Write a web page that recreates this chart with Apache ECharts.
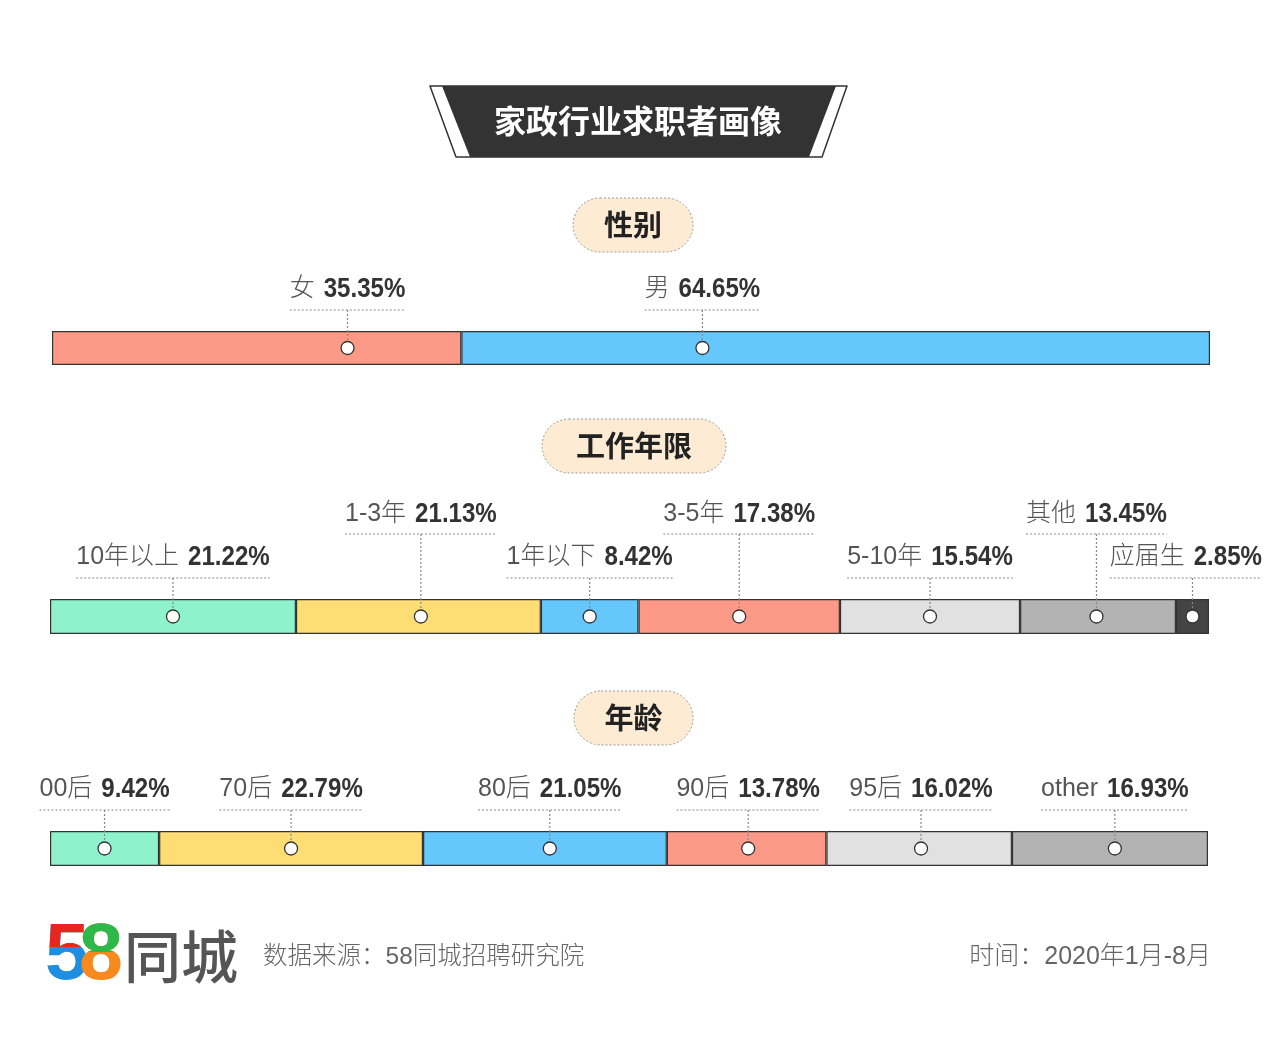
<!DOCTYPE html>
<html><head><meta charset="utf-8">
<script src="https://cdn.jsdelivr.net/npm/echarts@6/dist/echarts.min.js"></script>
<style>html,body{margin:0;padding:0;background:#fff}#c{width:1280px;height:1052px}</style>
</head><body><div id="c"></div>
<script>
// ---- data ----
const genderCategories = ['女', '男'];
const genderValues = [35.35, 64.65];
const workCategories = ['10年以上', '1-3年', '1年以下', '3-5年', '5-10年', '其他', '应届生'];
const workValues = [21.22, 21.13, 8.42, 17.38, 15.54, 13.45, 2.85];
const ageCategories = ['00后', '70后', '80后', '90后', '95后', 'other'];
const ageValues = [9.42, 22.79, 21.05, 13.78, 16.02, 16.93];
const sectionTitles = ['性别', '工作年限', '年龄'];
const mainTitle = '家政行业求职者画像';
const logoDigits = ['5', '8'];
const logoWord = '同城';
const sourceText = '数据来源：58同城招聘研究院';
const timeText = '时间：2020年1月-8月';

// ---- styles / layout ----
const genderColors = ['#fd9a87', '#66c7fd'];
const workColors = ['#8ef3cd', '#fede74', '#66c7fd', '#fd9a87', '#e1e1e1', '#b3b3b3', '#444444'];
const ageColors = ['#8ef3cd', '#fede74', '#66c7fd', '#fd9a87', '#e1e1e1', '#b3b3b3'];
const genderLevels = [0, 0];
const workLevels = [0, 1, 0, 1, 0, 1, 0];
const ageLevels = [0, 0, 0, 0, 0, 0];
// where the marker sits inside each segment (fraction of segment width)
const genderMarkerPos = [0.722, 0.322];
const workMarkerPos = [0.5, 0.51, 0.5, 0.5, 0.5, 0.49, 0.5];
const ageMarkerPos = [0.5, 0.5, 0.52, 0.51, 0.51, 0.525];

const W = 1280;
const NAME_FONT = "300 25px 'Liberation Sans', 'Noto Sans CJK SC', sans-serif";
const VAL_FONT = "bold 28px 'Liberation Sans', sans-serif";
const VAL_SCALE = 0.86;
const GAP = 9;
const mctx = document.createElement('canvas').getContext('2d');
function tw(t, f) { mctx.font = f; return mctx.measureText(t).width; }

const grids = [
  { left: 52, right: 70, top: 331, height: 34 },
  { left: 50, right: 71, top: 599, height: 35 },
  { left: 50, right: 72, top: 831, height: 35 }
];
const rows = [
  { names: genderCategories, values: genderValues, colors: genderColors, levels: genderLevels, mpos: genderMarkerPos },
  { names: workCategories, values: workValues, colors: workColors, levels: workLevels, mpos: workMarkerPos },
  { names: ageCategories, values: ageValues, colors: ageColors, levels: ageLevels, mpos: ageMarkerPos }
];

const xAxis = [], yAxis = [], series = [];
rows.forEach((row, idx) => {
  const total = row.values.reduce((a, b) => a + b, 0);
  xAxis.push({ type: 'value', gridIndex: idx, min: 0, max: total, show: false });
  yAxis.push({ type: 'category', gridIndex: idx, data: ['a'], show: false });
  row.values.forEach((v, i) => {
    series.push({
      type: 'bar', stack: 'row' + idx, xAxisIndex: idx, yAxisIndex: idx,
      data: [v], barWidth: '100%', silent: true,
      itemStyle: { color: row.colors[i], borderColor: '#333', borderWidth: 1.2 }
    });
  });
  let cum = 0;
  const pts = row.values.map((v, i) => { const c = cum + v * row.mpos[i]; cum += v; return [c, 0]; });
  series.push({
    type: 'custom', xAxisIndex: idx, yAxisIndex: idx, data: pts, silent: true, z: 10,
    renderItem: function (params, api) {
      const i = params.dataIndex;
      const c = api.coord([api.value(0), 0]);
      const band = api.size([0, 1])[1];
      const barTop = c[1] - band / 2;
      const level = row.levels[i];
      const name = row.names[i];
      const val = row.values[i].toFixed(2) + '%';
      const nw = tw(name, NAME_FONT), vw = tw(val, VAL_FONT) * VAL_SCALE;
      const w = nw + GAP + vw;
      const textY = barTop - 42 - level * 43;
      const lineY = barTop - 21 - level * 44;
      let lx = c[0];
      if (lx + w / 2 > W - 18) lx = W - 18 - w / 2;
      const left = lx - w / 2;
      return {
        type: 'group',
        children: [
          { type: 'text', style: { text: name, x: left, y: textY, font: NAME_FONT, fill: '#555', align: 'left', verticalAlign: 'middle' } },
          { type: 'text', x: left + nw + GAP, y: textY, scaleX: VAL_SCALE, style: { text: val, x: 0, y: 0, font: VAL_FONT, fill: '#333', align: 'left', verticalAlign: 'middle' } },
          { type: 'line', shape: { x1: left, y1: lineY, x2: left + w, y2: lineY }, style: { stroke: '#888', lineWidth: 1.2, lineDash: [2, 2] } },
          { type: 'line', shape: { x1: c[0], y1: lineY, x2: c[0], y2: c[1] - 6.5 }, style: { stroke: '#888', lineWidth: 1.2, lineDash: [2, 2] } },
          { type: 'circle', shape: { cx: c[0], cy: c[1], r: 6.5 }, style: { fill: '#fff', stroke: '#333', lineWidth: 1.3 } }
        ]
      };
    }
  });
});

// ---- logo (two-colour digits via clip paths) ----
const LOGO_FONT = "bold 79px 'Liberation Sans', sans-serif";
series.push({
  type: 'custom', coordinateSystem: 'none', data: [[0]], silent: true, z: 20,
  renderItem: function () {
    const y = 957;
    const d5 = 67, d8 = 101;
    function digit(t, x, color, clip) {
      const el = { type: 'text', style: { text: t, x: x, y: y, font: LOGO_FONT, fill: color, align: 'center', verticalAlign: 'middle' } };
      if (clip) el.clipPath = { type: 'rect', shape: clip };
      return el;
    }
    return {
      type: 'group',
      children: [
        digit(logoDigits[0], d5, '#1e8fe0', null),
        digit(logoDigits[0], d5, '#e8261f', { x: 30, y: 900, width: 60, height: 47 }),
        digit(logoDigits[1], d8, '#f7891f', null),
        digit(logoDigits[1], d8, '#2db84a', { x: 78, y: 900, width: 50, height: 52 })
      ]
    };
  }
});

// ---- decorations ----
const pills = [
  { x: 573, y: 198, w: 120, h: 54 },
  { x: 542, y: 419, w: 184, h: 54 },
  { x: 574, y: 691, w: 119, h: 54 }
];
const graphic = [];
graphic.push({ type: 'polygon', shape: { points: [[430, 86], [847, 86], [822, 157], [456, 157]] }, style: { fill: '#fff', stroke: '#333', lineWidth: 1.5, lineJoin: 'round' } });
graphic.push({ type: 'polygon', shape: { points: [[442, 86], [836, 86], [809, 157], [470, 157]] }, style: { fill: '#333' } });
graphic.push({ type: 'text', style: { text: mainTitle, x: 638, y: 121, font: "bold 32px 'Noto Sans CJK SC', sans-serif", fill: '#fff', align: 'center', verticalAlign: 'middle' } });
pills.forEach((p, i) => {
  graphic.push({ type: 'rect', shape: { x: p.x, y: p.y, width: p.w, height: p.h, r: p.h / 2 }, style: { fill: '#fdebd4', stroke: '#999', lineWidth: 1, lineDash: [2, 2] } });
  graphic.push({ type: 'text', style: { text: sectionTitles[i], x: p.x + p.w / 2, y: p.y + p.h / 2, font: "bold 29px 'Noto Sans CJK SC', sans-serif", fill: '#222', align: 'center', verticalAlign: 'middle' } });
});
graphic.push({ type: 'text', style: { text: logoWord, x: 124, y: 956, font: "500 57px 'Noto Sans CJK SC', sans-serif", fill: '#555', align: 'left', verticalAlign: 'middle' } });
graphic.push({ type: 'text', style: { text: sourceText, x: 263, y: 957, font: "300 24.5px 'Liberation Sans', 'Noto Sans CJK SC', sans-serif", fill: '#666', align: 'left', verticalAlign: 'middle' } });
graphic.push({ type: 'text', style: { text: timeText, x: 1211, y: 957, font: "300 25px 'Liberation Sans', 'Noto Sans CJK SC', sans-serif", fill: '#666', align: 'right', verticalAlign: 'middle' } });

const chart = echarts.init(document.getElementById('c'));
chart.setOption({
  backgroundColor: '#fff',
  animation: false,
  grid: grids,
  xAxis: xAxis,
  yAxis: yAxis,
  series: series,
  graphic: graphic
});
</script></body></html>
